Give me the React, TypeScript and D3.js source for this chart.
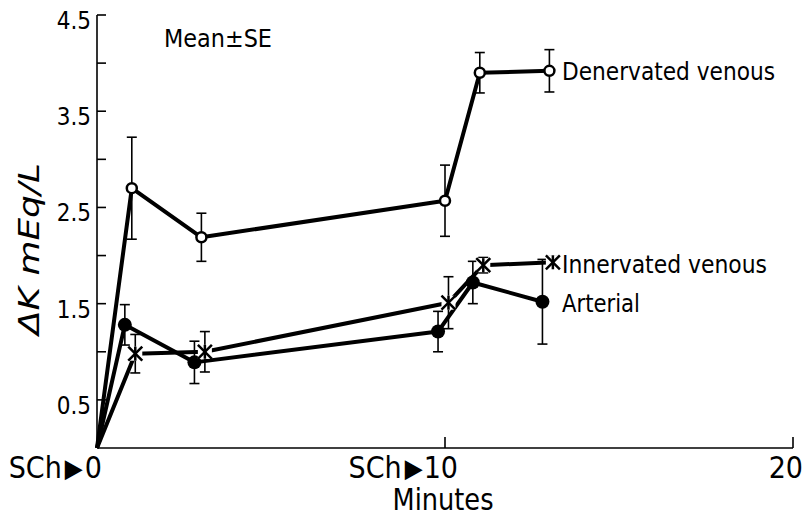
import React from 'react';
import * as d3 from 'd3';

const width = 810;
const height = 519;

// minutes after SCh, mean deltaK, SE
const denervX = [0, 1.0, 3.0, 10.0, 11.0, 13.0];
const denervY = [0, 2.70, 2.19, 2.57, 3.90, 3.92];
const denervSE = [0, 0.53, 0.25, 0.37, 0.21, 0.22];

const innervX = [0, 1.1, 3.1, 10.1, 11.1, 13.1];
const innervY = [0, 0.98, 1.0, 1.51, 1.90, 1.93];
const innervSE = [0, 0.2, 0.21, 0.27, 0.08, 0.06];

const arterialX = [0, 0.8, 2.8, 9.8, 10.8, 12.8];
const arterialY = [0, 1.28, 0.89, 1.21, 1.72, 1.52];
const arterialSE = [0, 0.21, 0.22, 0.21, 0.22, 0.44];

const yTicks = [0.5, 1, 1.5, 2, 2.5, 3, 3.5, 4, 4.5];
const yLabels = [0.5, 1.5, 2.5, 3.5, 4.5];
const xTicks = [10, 20];

const font = "'DejaVu Sans Condensed', 'Liberation Sans Narrow', 'Liberation Sans', sans-serif";

const x = d3.scaleLinear().domain([0, 20]).range([97, 793]);
const y = d3.scaleLinear().domain([0, 4.5]).range([448, 15]);

function zip(xs: number[], ys: number[]): [number, number][] {
    return xs.map((v, i) => [v, ys[i]]);
}

const line = d3.line<[number, number]>().x(d => x(d[0])).y(d => y(d[1]));

function ErrorBars({ xs, ys, se }: { xs: number[], ys: number[], se: number[] }) {
    return (
        <g stroke='black' strokeWidth={1.6}>
            {xs.map((v, i) => {
                if (se[i] === 0) return null;
                const cx = x(v);
                const top = y(ys[i] + se[i]);
                const bot = y(ys[i] - se[i]);
                return (
                    <g key={i}>
                        <line x1={cx} x2={cx} y1={top} y2={bot} />
                        <line x1={cx - 5} x2={cx + 5} y1={top} y2={top} />
                        <line x1={cx - 5} x2={cx + 5} y1={bot} y2={bot} />
                    </g>
                );
            })}
        </g>
    );
}

export default function App() {
    const den = zip(denervX, denervY);
    const inn = zip(innervX, innervY);
    const art = zip(arterialX, arterialY);
    return (
        <svg width={width} height={height} style={{ position: 'absolute', left: 0, top: 0, background: 'white' }}>
            <rect width={width} height={height} fill='white' />
            {/* axes */}
            <g stroke='black' strokeWidth={1.6} fill='none'>
                <line x1={x(0)} x2={x(0)} y1={y(0)} y2={y(4.5)} />
                <line x1={x(0)} x2={x(20)} y1={y(0)} y2={y(0)} />
                {yTicks.map(t => (
                    <line key={t} x1={x(0)} x2={x(0) + 9} y1={y(t)} y2={y(t)} />
                ))}
                {xTicks.map(t => (
                    <line key={t} x1={x(t)} x2={x(t)} y1={y(0)} y2={y(0) - 11} />
                ))}
            </g>
            <g fontFamily={font} fill='black'>
                {yLabels.map(t => (
                    <text key={t} x={x(0) - 6} y={y(t) + 14} textAnchor='end' fontSize={24}>{t}</text>
                ))}
                <g fontSize={30}>
                    <text x={x(0) + 5} y={y(0) + 30} textAnchor='end'>SCh<tspan fontSize={26} dx={3} dy={-1}>▶</tspan><tspan dx={2} dy={1}>0</tspan></text>
                    <text x={x(10) + 13} y={y(0) + 30} textAnchor='end'>SCh<tspan fontSize={26} dx={3} dy={-1}>▶</tspan><tspan dx={1} dy={1}>10</tspan></text>
                    <text x={x(20) + 10} y={y(0) + 30} textAnchor='end'>20</text>
                    <text x={x(10) - 2} y={510} textAnchor='middle' textLength={101} lengthAdjust='spacingAndGlyphs'>Minutes</text>
                </g>
                <text x={164} y={47} fontSize={25} textLength={108} lengthAdjust='spacingAndGlyphs'>Mean±SE</text>
                <text x={562} y={80} fontSize={25} textLength={213} lengthAdjust='spacingAndGlyphs'>Denervated  venous</text>
                <text x={562} y={273} fontSize={25} textLength={205} lengthAdjust='spacingAndGlyphs'>Innervated  venous</text>
                <text x={562} y={312} fontSize={25} textLength={78} lengthAdjust='spacingAndGlyphs'>Arterial</text>
                <text transform={`translate(39,249) rotate(-90)`} textAnchor='middle' fontStyle='italic' fontSize={29} textLength={172} lengthAdjust='spacingAndGlyphs'>ΔK  mEq/L</text>
            </g>
            {/* error bars */}
            <ErrorBars xs={denervX} ys={denervY} se={denervSE} />
            <ErrorBars xs={innervX} ys={innervY} se={innervSE} />
            <ErrorBars xs={arterialX} ys={arterialY} se={arterialSE} />
            {/* lines */}
            <g fill='none' stroke='black' strokeWidth={4} strokeLinejoin='round'>
                <path d={line(den) || ''} />
                <path d={line(inn) || ''} />
                <path d={line(art) || ''} />
            </g>
            {/* markers */}
            {den.slice(1).map((d, i) => (
                <circle key={'d' + i} cx={x(d[0])} cy={y(d[1])} r={5} fill='white' stroke='black' strokeWidth={2.5} />
            ))}
            {art.slice(1).map((d, i) => (
                <circle key={'a' + i} cx={x(d[0])} cy={y(d[1])} r={7} fill='black' />
            ))}
            {inn.slice(1).map((d, i) => {
                const cx = x(d[0]);
                const cy = y(d[1]);
                const s = 7;
                return (
                    <g key={'i' + i} stroke='black' strokeWidth={2.5}>
                        <rect x={cx - s} y={cy - s} width={2 * s} height={2 * s} fill='white' stroke='none' />
                        <line x1={cx - s} x2={cx + s} y1={cy - s} y2={cy + s} />
                        <line x1={cx - s} x2={cx + s} y1={cy + s} y2={cy - s} />
                        <line x1={cx} x2={cx} y1={cy - s} y2={cy + s} />
                    </g>
                );
            })}
        </svg>
    );
}
